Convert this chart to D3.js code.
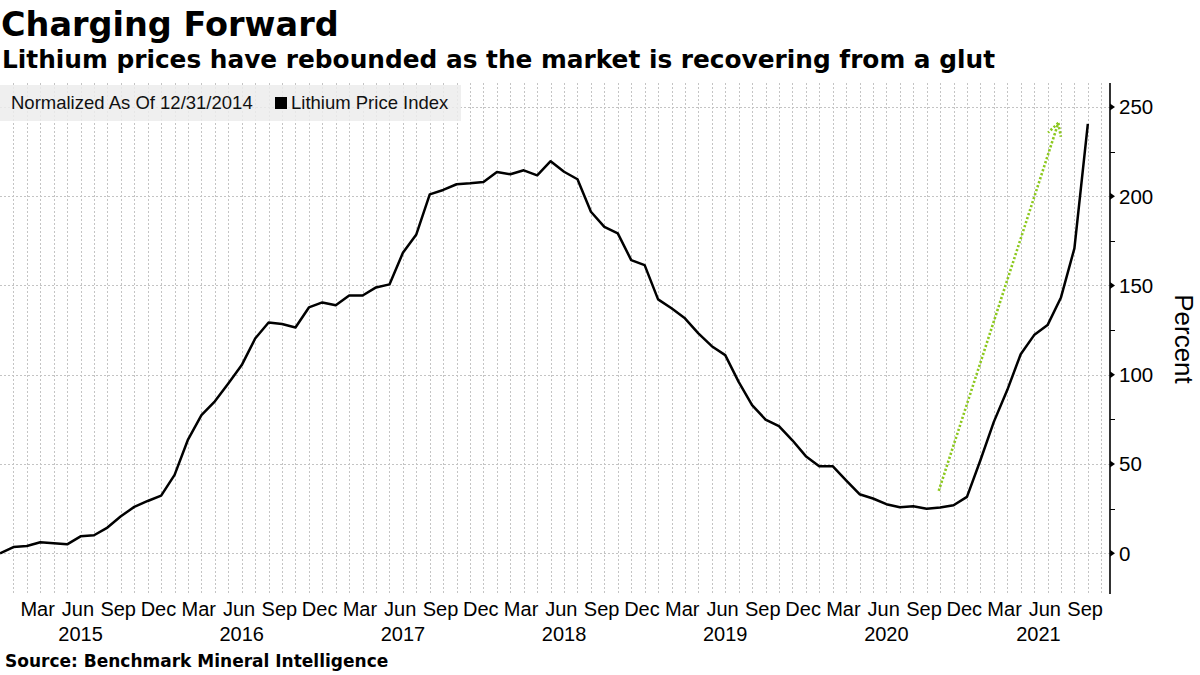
<!DOCTYPE html>
<html><head><meta charset="utf-8">
<script src="https://cdnjs.cloudflare.com/ajax/libs/d3/7.8.5/d3.min.js"></script>
<style>
html,body{margin:0;padding:0;background:#fff;}
svg{display:block;}
</style></head>
<body>
<svg id="chart" width="1200" height="675"></svg>
<script>
// ---- data ----
const title = "Charging Forward";
const subtitle = "Lithium prices have rebounded as the market is recovering from a glut";
const source = "Source:  Benchmark Mineral Intelligence";
const legendNote = "Normalized As Of 12/31/2014";
const seriesName = "Lithium Price Index";
const yLabel = "Percent";
// monthly, Dec 2014 .. Sep 2021
const months = d3.timeMonth.range(new Date(2014, 11, 1), new Date(2021, 9, 1));
const lithium = [
  0, 3.5, 4.1, 6.2, 5.6, 5.0, 9.5, 10.1, 14.4, 20.7, 26, 29.3, 32.3,
  43.9, 63.7, 77.4, 85.1, 95.1, 105.4, 120.3, 129.3, 128.4, 126.5, 137.7, 140.5, 138.9,
  144.4, 144.4, 148.9, 150.6, 168.3, 178.6, 201, 203.5, 206.7, 207.2, 208, 213.6,
  212.3, 214.5, 211.7, 219.6, 213.7, 209.5, 191.3, 182.8, 179.2, 164.2, 161.4, 142.2,
  137.2, 131.6, 123.2, 116, 111, 96, 83, 74.9, 71.2, 63.3, 54.4, 48.8,
  48.8, 40.9, 33.1, 30.7, 27.5, 25.8, 26.3, 25, 25.6, 26.9, 31.6, 52.1,
  73.6, 91.4, 111.5, 122.2, 127.8, 143.3, 170.8, 240.5
];
const quarterNames = ["Mar", "Jun", "Sep", "Dec"];
const years = [2015, 2016, 2017, 2018, 2019, 2020, 2021];
const yTicks = [0, 50, 100, 150, 200, 250];
const yMinorTicks = [25, 75, 125, 175, 225];
// annotation arrow (month index, value)
const arrowFrom = [69.9, 35];
const arrowTo = [78.8, 241];

// ---- layout ----
const svg = d3.select("#chart");
const plot = {left: 0, right: 1110, top: 83, bottom: 594};
const x = d3.scaleLinear().domain([0, 82.65]).range([plot.left, plot.right]);
const y = d3.scaleLinear().domain([-22.8, 263.4]).range([plot.bottom, plot.top]);
const narrow = "'Liberation Sans', Arial, sans-serif";
const boldFont = "'DejaVu Sans', Verdana, sans-serif";

// gridlines
const grid = svg.append("g").attr("stroke", "#c4c4c4").attr("stroke-width", 1).attr("stroke-dasharray", "2,2");
grid.selectAll("line.v").data(d3.range(1, months.length + 1)).join("line")
  .attr("x1", d => Math.round(x(d)) + 0.5).attr("x2", d => Math.round(x(d)) + 0.5)
  .attr("y1", plot.top).attr("y2", plot.bottom);
grid.selectAll("line.h").data(yTicks).join("line")
  .attr("x1", plot.left).attr("x2", plot.right)
  .attr("y1", d => Math.round(y(d)) + 0.5).attr("y2", d => Math.round(y(d)) + 0.5);

// legend box
svg.append("rect").attr("x", 0).attr("y", 85).attr("width", 461).attr("height", 36)
  .attr("fill", "#ececec").attr("fill-opacity", 0.85);
svg.append("text").attr("x", 11).attr("y", 109).attr("font-family", narrow).attr("font-size", 18.5)
  .attr("fill", "#111").text(legendNote);
svg.append("rect").attr("x", 275).attr("y", 97).attr("width", 12).attr("height", 12).attr("fill", "#000");
svg.append("text").attr("x", 291).attr("y", 109).attr("font-family", narrow).attr("font-size", 18.5)
  .attr("fill", "#111").text(seriesName);

// line
const line = d3.line().x((d, i) => x(i)).y(d => y(d));
svg.append("path").datum(lithium).attr("d", line).attr("fill", "none")
  .attr("stroke", "#000").attr("stroke-width", 2.5).attr("stroke-linejoin", "round");

// arrow annotation
const ax0 = x(arrowFrom[0]), ay0 = y(arrowFrom[1]), ax1 = x(arrowTo[0]), ay1 = y(arrowTo[1]);
const ang = Math.atan2(ay0 - ay1, ax0 - ax1);
const barb = 14, spread = 0.5;
const arrowG = svg.append("g").attr("stroke", "#8cc81e").attr("stroke-width", 2.6)
  .attr("stroke-dasharray", "2.2,2").attr("fill", "none");
arrowG.append("line").attr("x1", ax0).attr("y1", ay0).attr("x2", ax1).attr("y2", ay1);
[-spread, spread].forEach(s => {
  arrowG.append("line").attr("x1", ax1).attr("y1", ay1)
    .attr("x2", ax1 + barb * Math.cos(ang + s)).attr("y2", ay1 + barb * Math.sin(ang + s));
});

// y axis
const yAxis = svg.append("g");
yAxis.append("line").attr("x1", plot.right).attr("x2", plot.right).attr("y1", plot.top).attr("y2", plot.bottom)
  .attr("stroke", "#000").attr("stroke-width", 1.6);
yAxis.selectAll("path.tri").data(yTicks).join("path")
  .attr("d", d => `M${plot.right},${y(d) - 3.5} L${plot.right + 5},${y(d)} L${plot.right},${y(d) + 3.5} Z`)
  .attr("fill", "#000");
yAxis.selectAll("line.minor").data(yMinorTicks).join("line")
  .attr("x1", plot.right).attr("x2", plot.right + 5)
  .attr("y1", d => Math.round(y(d)) + 0.5).attr("y2", d => Math.round(y(d)) + 0.5)
  .attr("stroke", "#000").attr("stroke-width", 1);
yAxis.selectAll("text").data(yTicks).join("text")
  .attr("x", 1119).attr("y", d => y(d)).attr("dy", "0.36em")
  .attr("font-family", narrow).attr("font-size", 20.5).attr("fill", "#000")
  .text(d => d);
svg.append("text").attr("transform", "translate(1175,339) rotate(90)")
  .attr("text-anchor", "middle").attr("font-family", narrow).attr("font-size", 26).attr("fill", "#000")
  .text(yLabel);

// x axis labels
const qIdx = months.map((m, i) => ({m, i})).filter(d => d.i > 0 && d.m.getMonth() % 3 === 2);
svg.append("g").selectAll("text").data(qIdx).join("text")
  .attr("x", d => x(d.i - 0.2)).attr("y", 616).attr("text-anchor", "middle")
  .attr("font-family", narrow).attr("font-size", 20).attr("fill", "#000")
  .text(d => quarterNames[(d.m.getMonth() - 2) / 3]);
svg.append("g").selectAll("text").data(years).join("text")
  .attr("x", (d, k) => {
    const a = k * 12, b = Math.min(a + 12, x.domain()[1]);
    return x((a + b) / 2);
  })
  .attr("y", 641).attr("text-anchor", "middle")
  .attr("font-family", narrow).attr("font-size", 20).attr("fill", "#000")
  .text(d => d);

// titles
svg.append("text").attr("x", 1).attr("y", 36).attr("font-family", boldFont).attr("font-weight", "bold")
  .attr("font-size", 33.5).attr("fill", "#000").text(title);
svg.append("text").attr("x", 2).attr("y", 68).attr("font-family", boldFont).attr("font-weight", "bold")
  .attr("font-size", 24.8).attr("fill", "#000").text(subtitle);
svg.append("text").attr("x", 5).attr("y", 667).attr("font-family", boldFont).attr("font-weight", "bold")
  .attr("font-size", 17).attr("fill", "#000").text(source);
</script>
</body></html>
